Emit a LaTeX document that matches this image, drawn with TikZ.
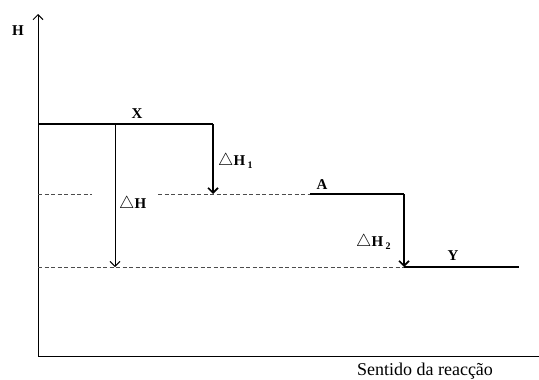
\documentclass[tikz,border=0pt]{standalone}
\usepackage{fontspec}
\setmainfont{Liberation Serif}
\usetikzlibrary{arrows.meta}
\newcommand{\tri}{\scalebox{1.2}{$\bigtriangleup$}}
\begin{document}
\begin{tikzpicture}[x=1pt,y=-1pt,
  level/.style={line width=1.8pt},
  axis/.style={line width=1pt},
  guide/.style={line width=0.6pt, dash pattern=on 4pt off 2.5pt, black!70},
  bigarrow/.style={line width=1.6pt, -{Straight Barb[length=5pt,width=10pt]}},
  thinarrow/.style={line width=0.9pt, -{Straight Barb[length=5pt,width=10pt]}},
  lbl/.style={font=\fontsize{15}{17}\selectfont\bfseries, inner sep=1pt}]
\useasboundingbox (0,0) rectangle (539,380);
% axes
\coordinate (O) at (38,356);
\coordinate (Ytop) at (38,14);
\coordinate (Xend) at (539,356);
\draw[axis,-{Straight Barb[length=5pt,width=10pt]}] (O) -- (Ytop);
\draw[axis] (O) -- (Xend);
% levels
\coordinate (X0) at (38,124);
\coordinate (X1) at (213,124);
\coordinate (A0) at (310,194);
\coordinate (A1) at (404,194);
\coordinate (B1) at (213,194);
\coordinate (Y0) at (404,267);
\coordinate (Y1) at (519,267);
\coordinate (Xm) at (115,124);
\coordinate (Ym) at (115,267);
\coordinate (D0) at (38,194);
\coordinate (D1) at (92,194);
\coordinate (D2) at (158,194);
\coordinate (E0) at (38,267);
\draw[level] (X0) -- (X1);
\draw[level] (A0) -- (A1);
\draw[level] (Y0) -- (Y1);
% guides
\draw[guide] (D0) -- (D1);
\draw[guide] (D2) -- (A0);
\draw[guide] (E0) -- (Y0);
% arrows
\draw[bigarrow] (X1) -- (B1);
\draw[bigarrow] (A1) -- (Y0);
\draw[thinarrow] (Xm) -- (Ym);
% labels
\node[lbl] (lH) at (18,31) {H};
\node[lbl] (lX) at (137,114) {X};
\node[lbl] (lA) at (322,185) {A};
\node[lbl] (lY) at (453,256) {Y};
\node[lbl, anchor=west] (lDH1) at (217,161) {\tri H\,\raisebox{-0.4ex}{\fontsize{10}{11}\selectfont 1}};
\node[lbl, anchor=west] (lDH) at (118,204) {\tri H};
\node[lbl, anchor=west] (lDH2) at (355,242) {\tri H\,\raisebox{-0.4ex}{\fontsize{10}{11}\selectfont 2}};
\node[font=\fontsize{18}{20}\selectfont, inner sep=1pt] (lS) at (425,371) {Sentido da reacção};
\end{tikzpicture}
\end{document}
